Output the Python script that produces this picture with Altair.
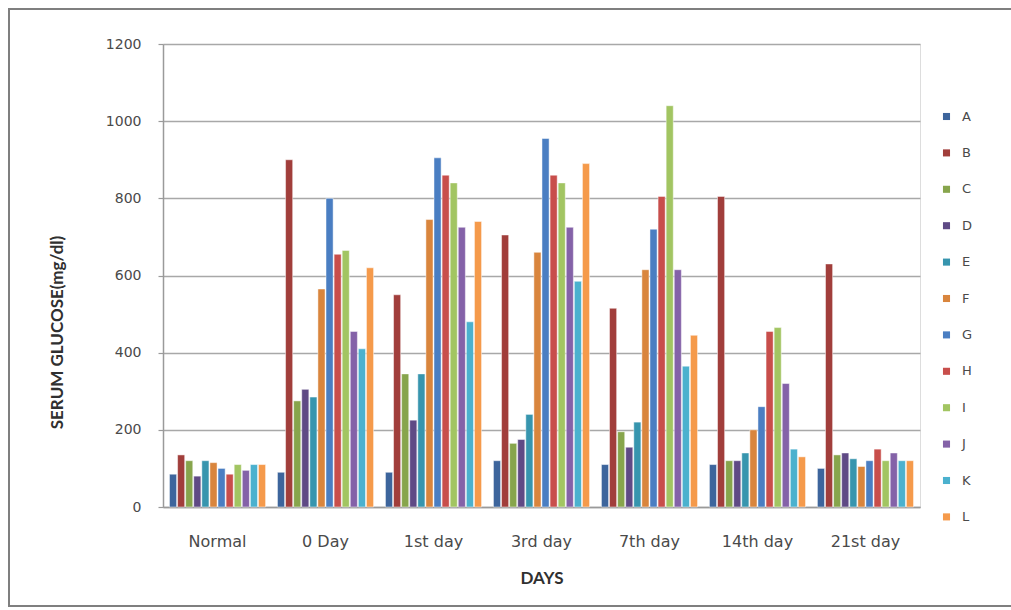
import altair as alt
import pandas as pd

days = ["Normal", "0 Day", "1st day", "3rd day", "7th day", "14th day", "21st day"]
series = ["A", "B", "C", "D", "E", "F", "G", "H", "I", "J", "K", "L"]
colors = ["#3D659C", "#A13E3B", "#87A54C", "#5F4A85", "#3795AE", "#D9853D",
          "#4A7EC2", "#C84E4B", "#A2C562", "#8462A8", "#4BB1CE", "#F59A4B"]

A = [85, 90, 90, 120, 110, 110, 100]
B = [135, 900, 550, 705, 515, 805, 630]
C = [120, 275, 345, 165, 195, 120, 135]
D = [80, 305, 225, 175, 155, 120, 140]
E = [120, 285, 345, 240, 220, 140, 125]
F = [115, 565, 745, 660, 615, 200, 105]
G = [100, 800, 905, 955, 720, 260, 120]
H = [85, 655, 860, 860, 805, 455, 150]
I = [110, 665, 840, 840, 1040, 465, 120]
J = [95, 455, 725, 725, 615, 320, 140]
K = [110, 410, 480, 585, 365, 150, 120]
L = [110, 620, 740, 890, 445, 130, 120]

values = {"A": A, "B": B, "C": C, "D": D, "E": E, "F": F,
          "G": G, "H": H, "I": I, "J": J, "K": K, "L": L}

rows = []
for s in series:
    for d, v in zip(days, values[s]):
        rows.append({"day": d, "series": s, "value": v})
df = pd.DataFrame(rows)

FONT = "DejaVu Sans"
TFONT = "Lato"
GRAY = "#4A4A4A"

bars = alt.Chart(df).mark_bar(stroke="white", strokeWidth=0.6, strokeOpacity=0.8).encode(
    x=alt.X("day:N", sort=days,
            scale=alt.Scale(paddingInner=0.11, paddingOuter=0.06),
            axis=alt.Axis(title="DAYS", labelAngle=0, ticks=False,
                          labelPadding=26, labelFontSize=16, labelColor=GRAY,
                          labelFont=FONT, titleFont=TFONT, titleFontSize=17,
                          titleFontWeight="bold", titleColor="#303030",
                          titleY=71, titleBaseline="middle",
                          domainColor="#9A9A9A", domainWidth=1.5, grid=False)),
    xOffset=alt.XOffset("series:N", sort=series, scale=alt.Scale(paddingInner=0.12)),
    y=alt.Y("value:Q",
            scale=alt.Scale(domain=[0, 1200], nice=False),
            axis=alt.Axis(title="SERUM GLUCOSE(mg/dl)", values=[0, 200, 400, 600, 800, 1000, 1200],
                          format="d",
                          labelFontSize=14, labelColor=GRAY, labelFont=FONT, labelPadding=17,
                          tickSize=5, tickColor="#9A9A9A", tickWidth=1.2,
                          domainColor="#9A9A9A", domainWidth=1.5,
                          gridColor="#A8A8A8", gridWidth=1.5,
                          titleFont=TFONT, titleFontSize=17, titleFontWeight="bold",
                          titleColor="#303030", titleX=-106, titleY=288,
                          titleBaseline="middle", titleAngle=270)),
    color=alt.Color("series:N", sort=series,
                    scale=alt.Scale(domain=series, range=colors),
                    legend=alt.Legend(title=None, orient="none", legendX=777, legendY=66,
                                      symbolType="square", symbolSize=50,
                                      symbolStrokeWidth=0,
                                      labelFontSize=13, labelColor=GRAY, labelFont=FONT,
                                      labelOffset=9, rowPadding=22.4, padding=0)),
)

frame = alt.Chart(pd.DataFrame({"f": [0]})).mark_rect(
    fill=None, stroke="#7F7F7F", strokeWidth=2, clip=False
).encode(
    x=alt.value(-154), x2=alt.value(900),
    y=alt.value(-35), y2=alt.value(562),
)

chart = alt.layer(frame, bars).properties(
    width=757, height=463,
    padding={"left": 163, "top": 44, "right": 91, "bottom": 103},
    autosize=alt.AutoSizeParams(type="none"),
).configure_view(stroke=None).configure(background="white")

chart.save("out.html", embed_options={"renderer": "svg", "actions": False})
